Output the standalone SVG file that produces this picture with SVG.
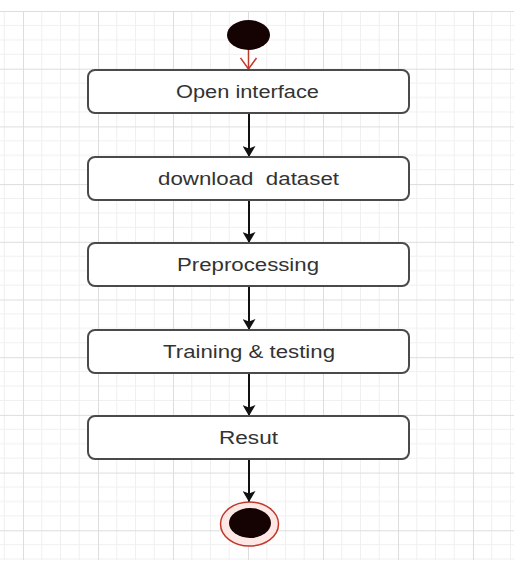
<svg xmlns="http://www.w3.org/2000/svg" width="514" height="570" viewBox="0 0 514 570">
  <style>
    .box { fill: #ffffff; stroke: #4a4a4a; stroke-width: 2; }
    .lbl { font-family: "Liberation Sans", Arial, sans-serif; font-size: 17.5px; fill: #333333; text-anchor: middle; white-space: pre; }
    .flow { stroke: #111111; stroke-width: 2; fill: none; marker-end: url(#arrow); }
    .start-flow { stroke: #c0392b; stroke-width: 1.5; fill: none; marker-end: url(#openArrow); }
  </style>
  <defs>
    <pattern id="grid" x="23" y="11" width="75" height="57.7" patternUnits="userSpaceOnUse">
      <path d="M18.75 0V57.7M37.5 0V57.7M56.25 0V57.7M0 14.4H75M0 28.85H75M0 43.3H75" stroke="#f0f0f0" stroke-width="1" fill="none"/>
      <path d="M0.5 0V57.7M0 0.5H75" stroke="#dddddd" stroke-width="1" fill="none"/>
    </pattern>
    <marker id="arrow" viewBox="0 0 11 13" markerWidth="11" markerHeight="13" refX="11" refY="6.5" orient="auto" markerUnits="userSpaceOnUse">
      <path d="M0,0 L11,6.5 L0,13 L2.5,6.5 z" fill="#111111"/>
    </marker>
    <marker id="openArrow" viewBox="0 0 13 18" markerWidth="13" markerHeight="18" refX="12" refY="9" orient="auto" markerUnits="userSpaceOnUse">
      <path d="M1,1 L12,9 L1,17" fill="none" stroke="#c0392b" stroke-width="1.5"/>
    </marker>
  </defs>

  <rect x="0" y="0" width="514" height="570" fill="#ffffff"/>
  <rect x="0" y="11" width="514" height="549" fill="url(#grid)"/>

  <g id="connectors">
    <path class="start-flow" d="M248.5 50V69"/>
    <path class="flow" d="M249 113V157"/>
    <path class="flow" d="M249 200V243"/>
    <path class="flow" d="M249 286V330"/>
    <path class="flow" d="M249 373V416"/>
    <path class="flow" d="M249 459V502"/>
  </g>

  <g id="start">
    <ellipse cx="248.5" cy="35" rx="21.5" ry="15" fill="#150303"/>
  </g>

  <g id="open-interface">
    <rect class="box" x="88" y="70" width="321" height="43" rx="7"/>
    <text class="lbl" x="247.5" y="98" textLength="143" lengthAdjust="spacingAndGlyphs">Open interface</text>
  </g>

  <g id="download-dataset">
    <rect class="box" x="88" y="157" width="321" height="43" rx="7"/>
    <text class="lbl" x="248.5" y="185" textLength="181" lengthAdjust="spacingAndGlyphs" xml:space="preserve">download  dataset</text>
  </g>

  <g id="preprocessing">
    <rect class="box" x="88" y="243" width="321" height="43" rx="7"/>
    <text class="lbl" x="248" y="271" textLength="142" lengthAdjust="spacingAndGlyphs">Preprocessing</text>
  </g>

  <g id="training-testing">
    <rect class="box" x="88" y="330" width="321" height="43" rx="7"/>
    <text class="lbl" x="249" y="358" textLength="172" lengthAdjust="spacingAndGlyphs">Training &amp; testing</text>
  </g>

  <g id="result">
    <rect class="box" x="88" y="416" width="321" height="43" rx="7"/>
    <text class="lbl" x="248.5" y="444" textLength="59" lengthAdjust="spacingAndGlyphs">Resut</text>
  </g>

  <g id="end">
    <ellipse cx="249.5" cy="524" rx="29" ry="22" fill="#fde8e6" stroke="#c0392b" stroke-width="1.5"/>
    <ellipse cx="250" cy="523" rx="21" ry="15" fill="#150303"/>
  </g>
</svg>
